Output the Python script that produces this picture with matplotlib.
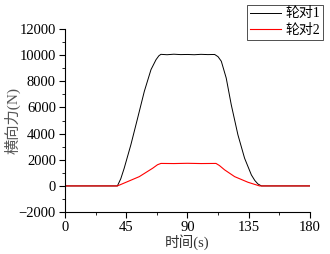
import matplotlib
matplotlib.use('Agg')
import matplotlib.pyplot as plt
from matplotlib.ticker import MultipleLocator

# wheel pair 1 (black)
t1 = [0, 38.5, 41.0, 43.5, 48.4, 53.4, 58.3, 63.2, 66.9, 69.0, 70.5, 75, 80, 85, 90, 95,
      100, 105, 110, 112.5, 114.9, 118.5, 122.2, 127.1, 132.0, 137.0, 139.5, 141.8, 144.4, 180]
f1 = [0, 0, 550, 1350, 3140, 5190, 7230, 8890, 9650, 9950, 10060, 10030, 10070, 10040,
      10050, 10030, 10060, 10040, 10050, 9880, 9530, 8250, 6210, 3910, 2120, 840, 420, 150, 0, 0]

# wheel pair 2 (red)
t2 = [0, 38.5, 46.0, 54.6, 64.4, 68.0, 70.5, 80, 90, 100, 111.0, 113.5, 117.3, 124.7, 134.5, 143.0, 180]
f2 = [0, 0, 330, 710, 1350, 1620, 1720, 1710, 1730, 1710, 1720, 1560, 1230, 710, 280, 0, 0]

labels = ['轮对1', '轮对2']
plt.rcParams['font.family'] = ['Liberation Serif', 'Noto Sans CJK SC']

fig = plt.figure(figsize=(3.3, 2.54), dpi=100)
ax = fig.add_axes([0.197, 0.165, 0.742, 0.721])

l1, = ax.plot(t1, f1, color='black', lw=0.7, label=labels[0])
l2, = ax.plot(t2, f2, color='red', lw=0.8, label=labels[1])

ax.set_xlim(0, 180)
ax.set_ylim(-2000, 12000)
ax.xaxis.set_major_locator(MultipleLocator(45))
ax.xaxis.set_minor_locator(MultipleLocator(22.5))
ax.yaxis.set_major_locator(MultipleLocator(2000))
ax.yaxis.set_minor_locator(MultipleLocator(1000))
ax.spines['top'].set_visible(False)
ax.spines['right'].set_visible(False)
for s in ['left', 'bottom']:
    ax.spines[s].set_linewidth(0.8)
ax.tick_params(which='major', direction='out', length=4, width=0.8, labelsize=10.5, pad=2.5)
ax.tick_params(which='minor', direction='out', length=2, width=0.6)

ax.set_xlabel('时间(s)', fontsize=10.5, color='#333333', labelpad=0)
ax.set_ylabel('横向力(N)', fontsize=11, color='#555555', labelpad=-1)

leg = fig.legend(handles=[l1, l2], loc='upper right', bbox_to_anchor=(0.979, 0.982),
                 prop={'size': 10}, frameon=True, fancybox=False,
                 handlelength=2.2, handletextpad=0.35, borderpad=0.2, labelspacing=0.25,
                 borderaxespad=0)
leg.get_frame().set_edgecolor('black')
leg.get_frame().set_linewidth(0.6)

plt.savefig('out.png', dpi=100)
